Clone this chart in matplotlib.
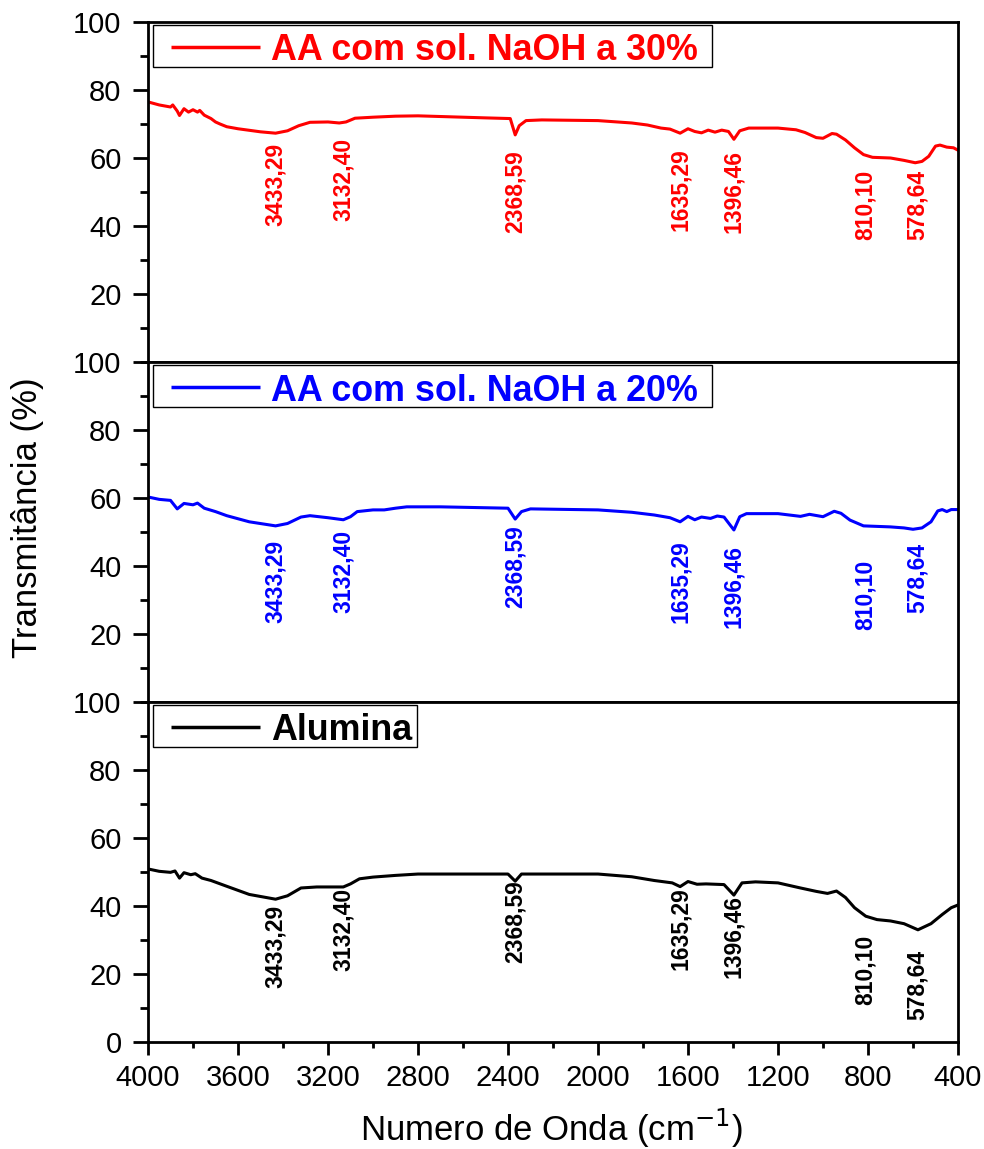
import matplotlib
matplotlib.use("Agg")
import matplotlib.pyplot as plt
from matplotlib.patches import Rectangle
from matplotlib.ticker import MultipleLocator

# --- FTIR spectra (wavenumber in cm-1, transmittance in %) ---
wn_30 = [4000, 3950, 3900, 3890, 3870, 3860, 3840, 3820, 3800, 3780, 3770, 3750,
         3720, 3700, 3680, 3650, 3600, 3500, 3433, 3380, 3330, 3280, 3200, 3150,
         3120, 3080, 3000, 2900, 2800, 2700, 2500, 2390, 2368, 2350, 2320, 2250,
         2000, 1850, 1780, 1720, 1680, 1635, 1600, 1570, 1540, 1510, 1480, 1450,
         1420, 1396, 1370, 1330, 1200, 1120, 1080, 1030, 1000, 960, 940, 900, 860,
         820, 780, 700, 640, 590, 560, 530, 500, 480, 450, 420, 400]
tr_30 = [76.5, 75.6, 75.0, 75.6, 73.8, 72.5, 74.5, 73.5, 74.2, 73.5, 74.0, 72.6,
         71.6, 70.6, 70.0, 69.2, 68.6, 67.7, 67.3, 68.0, 69.5, 70.5, 70.6, 70.3,
         70.6, 71.7, 72.0, 72.3, 72.4, 72.2, 71.8, 71.6, 66.8, 69.5, 71.0, 71.2,
         71.0, 70.3, 69.7, 68.8, 68.5, 67.3, 68.6, 67.8, 67.4, 68.2, 67.6, 68.2,
         67.8, 65.5, 68.0, 68.8, 68.8, 68.3, 67.5, 66.0, 65.8, 67.2, 67.0, 65.3, 63.0,
         61.0, 60.2, 60.0, 59.3, 58.6, 59.0, 60.5, 63.5, 63.8, 63.2, 63.0, 62.3]

wn_20 = [4000, 3950, 3900, 3870, 3840, 3800, 3780, 3750, 3700, 3650, 3550, 3433,
         3380, 3320, 3280, 3200, 3132, 3100, 3070, 3000, 2950, 2900, 2850, 2700,
         2400, 2368, 2340, 2300, 2000, 1850, 1750, 1680, 1635, 1600, 1570, 1540,
         1500, 1470, 1440, 1396, 1370, 1340, 1200, 1100, 1060, 1000, 950, 920, 880,
         820, 700, 640, 600, 560, 520, 490, 470, 450, 430, 400]
tr_20 = [60.3, 59.6, 59.3, 56.8, 58.4, 58.0, 58.5, 57.0, 56.0, 54.8, 53.0, 51.8,
         52.5, 54.4, 54.8, 54.2, 53.6, 54.5, 56.0, 56.5, 56.5, 57.0, 57.4, 57.4,
         57.0, 53.8, 56.0, 56.8, 56.5, 55.8, 55.0, 54.2, 53.0, 54.6, 53.6, 54.4,
         54.0, 54.7, 54.4, 50.6, 54.5, 55.4, 55.4, 54.6, 55.2, 54.5, 56.1, 55.5, 53.5,
         51.8, 51.5, 51.2, 50.8, 51.2, 53.0, 56.2, 56.6, 56.0, 56.6, 56.6]

wn_al = [4000, 3950, 3900, 3880, 3860, 3840, 3810, 3790, 3760, 3720, 3650, 3550,
         3433, 3380, 3320, 3250, 3132, 3100, 3060, 3000, 2900, 2800, 2400, 2368,
         2340, 2000, 1850, 1750, 1670, 1635, 1600, 1560, 1520, 1480, 1440, 1396,
         1360, 1300, 1200, 1100, 1030, 980, 940, 900, 860, 810, 760, 700, 640, 578,
         520, 470, 430, 400]
tr_al = [50.9, 50.2, 49.9, 50.3, 48.2, 49.8, 49.2, 49.5, 48.2, 47.5, 45.8, 43.4,
         42.0, 43.0, 45.3, 45.6, 45.6, 46.5, 48.0, 48.5, 49.0, 49.4, 49.4, 47.3,
         49.4, 49.4, 48.6, 47.5, 46.8, 45.7, 47.2, 46.4, 46.5, 46.4, 46.3, 43.2,
         46.8, 47.1, 46.8, 45.3, 44.3, 43.7, 44.4, 42.5, 39.5, 37.0, 36.0, 35.6, 34.8, 33.0,
         34.8, 37.5, 39.5, 40.3]

# band assignments written on each spectrum
peak_wn = [3433.29, 3132.40, 2368.59, 1635.29, 1396.46, 810.10, 578.64]
peak_labels = ["3433,29", "3132,40", "2368,59", "1635,29", "1396,46", "810,10", "578,64"]

series_names = ["AA com sol. NaOH a 30%", "AA com sol. NaOH a 20%", "Alumina"]

# --- layout / style ---
colors = ["#ff0000", "#0000ff", "#000000"]
label_tops = [
    [64.4, 65.9, 62.4, 62.9, 62.4, 56.5, 56.5],
    [47.6, 50.6, 52.1, 47.6, 46.2, 41.8, 46.8],
    [40.3, 45.3, 47.6, 45.6, 43.2, 31.5, 27.1],
]
legend_box_right = [712, 712, 417]   # right edge of each key box, px

fig = plt.figure(figsize=(9.84, 11.49), dpi=100)
W, H = 984.0, 1149.0
AX_L, AX_R = 148, 958
panel_px = [(22, 362), (362, 702), (702, 1042)]
PW = AX_R - AX_L

sans = ["Liberation Sans", "DejaVu Sans"]

data = [(wn_30, tr_30), (wn_20, tr_20), (wn_al, tr_al)]
for i, ((top, bot), (wn, tr), col, name) in enumerate(zip(panel_px, data, colors, series_names)):
    PH = bot - top
    ax = fig.add_axes([AX_L / W, 1 - bot / H, PW / W, PH / H])
    ax.plot(wn, tr, color=col, lw=2.2, solid_joinstyle="round")
    ax.set_xlim(4000, 400)
    ax.set_ylim(0, 100)
    ax.xaxis.set_major_locator(MultipleLocator(400))
    ax.xaxis.set_minor_locator(MultipleLocator(200))
    ax.yaxis.set_major_locator(MultipleLocator(20))
    ax.yaxis.set_minor_locator(MultipleLocator(10))
    for s in ax.spines.values():
        s.set_linewidth(2.0)
    ax.tick_params(axis="y", which="major", direction="out", length=11, width=2,
                   labelsize=21, pad=8)
    ax.tick_params(axis="y", which="minor", direction="out", length=6, width=2)
    ax.tick_params(axis="x", which="major", direction="out", length=9.5, width=2,
                   labelsize=21, pad=6)
    ax.tick_params(axis="x", which="minor", direction="out", length=4.5, width=2)
    if i < 2:
        ax.tick_params(axis="x", which="both", bottom=False, labelbottom=False)
        ax.set_yticks([20, 40, 60, 80, 100])
        ax.yaxis.set_minor_locator(MultipleLocator(10))
    for lab in ax.get_xticklabels() + ax.get_yticklabels():
        lab.set_family(sans)

    for x, txt, yt in zip(peak_wn, peak_labels, label_tops[i]):
        ax.text(x, yt, txt, rotation=90, ha="center", va="top", color=col,
                fontsize=16.5, fontweight="bold", family=sans)

    # key box: frame, sample line and series name (offsets in px from panel top-left)
    def fx(px):
        return (px - AX_L) / PW

    def fy(off):
        return 1 - off / PH

    x0, x1 = fx(153), fx(legend_box_right[i])
    y0, y1 = fy(45), fy(3)
    ax.add_patch(Rectangle((x0, y0), x1 - x0, y1 - y0, transform=ax.transAxes,
                           facecolor="white", edgecolor="black", lw=1.0, zorder=5))
    ax.plot([fx(171), fx(260)], [fy(25), fy(25)], transform=ax.transAxes,
            color=col, lw=2.5, solid_capstyle="butt", zorder=6)
    ax.text(fx(271), fy(25), name, transform=ax.transAxes, ha="left", va="center_baseline",
            color=col, fontsize=25.8, fontweight="bold", family=sans, zorder=6)

fig.text(28 / W, 1 - 518 / H, "Transmitância (%)", rotation=90, ha="center", va="center",
         fontsize=25, family=sans)
fig.text(551 / W, 1 - 1141 / H, r"Numero de Onda (cm$^{-1}$)", ha="center", va="baseline",
         fontsize=25, family=sans)

fig.savefig("out.png", dpi=100)
